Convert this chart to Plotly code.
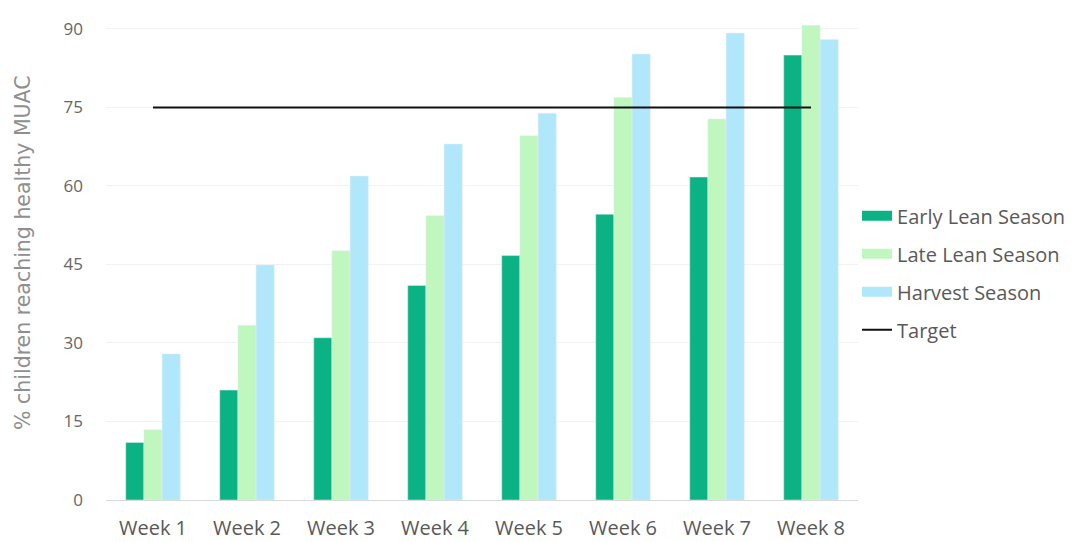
import plotly.graph_objects as go

weeks = ["Week 1", "Week 2", "Week 3", "Week 4", "Week 5", "Week 6", "Week 7", "Week 8"]
early_lean = [11, 21, 31, 41, 46.7, 54.6, 61.7, 85]
late_lean = [13.4, 33.4, 47.6, 54.3, 69.6, 76.9, 72.8, 90.7]
harvest = [27.9, 44.9, 61.9, 68, 73.9, 85.2, 89.2, 88]
target = [75] * len(weeks)
y_ticks = [0, 15, 30, 45, 60, 75, 90]

series = [
    ("Early Lean Season", early_lean, "#0bb384"),
    ("Late Lean Season", late_lean, "#c0f7bf"),
    ("Harvest Season", harvest, "#b0e7fa"),
]

fig = go.Figure()
for name, vals, col in series:
    fig.add_trace(go.Bar(x=weeks, y=vals, name=name, marker_color=col,
                         showlegend=False, legendgroup=name))
fig.add_trace(go.Scatter(x=weeks, y=target, name="Target", mode="lines",
                         line=dict(color="#111111", width=2), showlegend=False,
                         legendgroup="Target"))

# legend entries (wide rectangular swatches like the original)
for name, vals, col in series:
    fig.add_trace(go.Scatter(x=[None], y=[None], name=name, mode="lines",
                             line=dict(color=col, width=13), legendgroup=name,
                             hoverinfo="skip"))
fig.add_trace(go.Scatter(x=[None], y=[None], name="Target", mode="lines",
                         line=dict(color="#111111", width=2), legendgroup="Target",
                         hoverinfo="skip"))

fig.update_layout(
    width=1076, height=542,
    margin=dict(l=106, r=218, t=8, b=42, autoexpand=False),
    paper_bgcolor="white", plot_bgcolor="white",
    barmode="group", bargap=0.42, bargroupgap=0,
    showlegend=True,
    legend=dict(x=0.9987, xanchor="left", y=0.462, yanchor="middle",
                font=dict(family="Open Sans, sans-serif", size=20, color="#595959"),
                tracegroupgap=9, itemwidth=30, bgcolor="rgba(0,0,0,0)"),
    font=dict(family="Open Sans, sans-serif"),
    annotations=[dict(text="% children reaching healthy MUAC", textangle=-90,
                      xref="paper", yref="paper", x=(23 - 106) / 752, y=0.502,
                      xanchor="center", yanchor="middle", showarrow=False,
                      font=dict(family="DejaVu Sans, sans-serif", size=20.5, color="#8f8f8f"))],
)
fig.update_xaxes(showline=True, linecolor="#d9d9d9", linewidth=1, ticks="",
                 ticklabelstandoff=10, automargin=False,
                 tickfont=dict(family="Open Sans, sans-serif", size=20, color="#595959"),
                 showgrid=False)
fig.update_yaxes(range=[0, 94], tickvals=y_ticks, ticktext=[str(v) for v in y_ticks],
                 showgrid=True, gridcolor="#f2f2f2", gridwidth=1, zeroline=False,
                 ticks="", ticklabelstandoff=22, automargin=False,
                 tickfont=dict(family="Open Sans, sans-serif", size=17, color="#666666"))

fig.write_html("out.html")
